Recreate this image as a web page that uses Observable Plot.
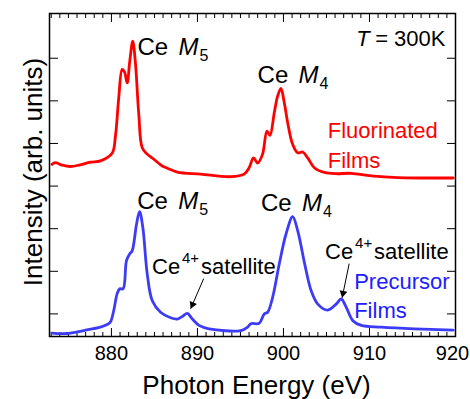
<!DOCTYPE html>
<html><head><meta charset="utf-8">
<script src="https://cdn.jsdelivr.net/npm/d3@7"></script>
<script src="https://cdn.jsdelivr.net/npm/@observablehq/plot@0.6"></script>
<style>body{margin:0;background:#fff;}</style>
</head><body><div id="chart"></div>
<script>
// Fluorinated films (red)
const fluorEnergy = [873.09,873.47,874.29,875.22,876.38,877.55,878.72,880.08,880.47,880.85,881.25,881.52,881.83,882.13,882.48,882.80,883.18,883.58,884.16,884.93,885.91,886.50,887.66,890.38,893.88,895.43,896.01,896.52,896.99,897.57,898.08,898.43,898.93,899.32,899.71,900.09,900.56,901.07,901.66,902.24,902.82,903.59,904.76,906.12,907.87,910.20,913.32,919.73];
const fluorIntensity = [3.51,3.55,3.49,3.46,3.50,3.56,3.59,3.77,4.18,5.07,5.74,5.68,5.42,5.93,6.40,5.86,4.68,3.90,3.75,3.63,3.47,3.42,3.33,3.28,3.22,3.28,3.43,3.66,3.54,3.75,4.29,4.19,4.72,5.11,5.29,4.96,4.41,3.98,3.78,3.80,3.66,3.43,3.32,3.29,3.30,3.24,3.20,3.19];
// Precursor films (blue)
const precEnergy = [873.09,874.83,876.77,878.72,879.50,879.88,880.27,880.66,880.97,881.36,881.75,882.13,882.41,882.92,883.27,883.65,884.16,884.75,885.71,886.88,887.66,888.24,888.83,889.41,890.18,891.35,895.04,895.83,896.21,897.18,897.76,898.16,898.74,899.51,900.29,901.07,901.66,902.43,903.21,903.99,905.15,906.12,906.71,907.29,908.07,909.04,911.37,915.25,919.73];
const precIntensity = [-0.45,-0.46,-0.39,-0.31,-0.25,-0.19,0.08,0.47,0.59,0.59,1.25,1.41,1.48,2.11,2.40,2.03,0.94,0.31,0.04,-0.09,-0.12,-0.06,0.01,-0.12,-0.27,-0.35,-0.39,-0.31,-0.23,-0.22,0.00,0.04,0.39,1.17,1.87,2.28,1.95,1.21,0.55,0.23,0.09,0.23,0.35,0.16,-0.16,-0.27,-0.31,-0.35,-0.38];

const majorTicksX = [880, 890, 900, 910, 920];
const minorTicksX = [873,874,875,876,877,878,879,881,882,883,884,885,886,887,888,889,891,892,893,894,895,896,897,898,899,901,902,903,904,905,906,907,908,909,911,912,913,914,915,916,917,918,919];
const ticksY = [0, 1, 2, 3, 4, 5, 6];

const xTitle = "Photon Energy (eV)";
const yTitle = "Intensity (arb. units)";

// satellite arrows: tail (x1,y1) -> tip (x2,y2)
const satArrows = [
  {x1: 890.73, y1: 0.83, x2: 889.21, y2: 0.12},
  {x1: 907.64, y1: 1.18, x2: 906.82, y2: 0.38}
];

const fluor = fluorEnergy.map((e, i) => ({energy: e, intensity: fluorIntensity[i]}));
const prec = precEnergy.map((e, i) => ({energy: e, intensity: precIntensity[i]}));

const RED = "#ff0000";
const BLUE = "#3c3cf6";
const TBLUE = "#2020ff";

function txt(x, y, s, o = {}) {
  return Plot.text([{x, y}], {x: "x", y: "y", text: () => s, textAnchor: "start", lineAnchor: "bottom", fontSize: 22, fill: "black", ...o});
}
function ceM(x, y, n) {
  return [
    txt(x, y, "Ce", {fontSize: 24}),
    txt(x, y, "M", {fontSize: 24, fontStyle: "italic", dx: 41}),
    txt(x, y, String(n), {fontSize: 16, dx: 62, dy: 6})
  ];
}
function ceSat(x, y) {
  return [
    txt(x, y, "Ce"),
    txt(x, y, "4+", {fontSize: 15, dx: 30, dy: -11}),
    txt(x, y, "satellite", {dx: 49})
  ];
}
function head(a, rot, ddx, ddy) {
  return Plot.dot([a], {x: "x2", y: "y2", symbol: "triangle", r: 2.9, fill: "black", stroke: "none", rotate: rot, dx: ddx, dy: ddy});
}

const chart = Plot.plot({
  width: 470,
  height: 399,
  marginLeft: 49,
  marginRight: 15,
  marginTop: 13,
  marginBottom: 63,
  style: {fontFamily: "'Liberation Sans', Arial, Helvetica, sans-serif", background: "white", color: "black"},
  x: {domain: [872.8, 920]},
  y: {domain: [-0.53, 7.05]},
  marks: [
    Plot.axisX(minorTicksX, {anchor: "bottom", tickSize: -4, tickFormat: () => "", label: null}),
    Plot.axisX(majorTicksX, {anchor: "bottom", tickSize: -8, tickFormat: () => "", label: null}),
    Plot.axisX(minorTicksX, {anchor: "top", tickSize: -4, tickFormat: () => "", label: null}),
    Plot.axisX(majorTicksX, {anchor: "top", tickSize: -8, tickFormat: () => "", label: null}),
    Plot.axisX(majorTicksX.slice(0, 4), {anchor: "bottom", tickSize: 0, tickPadding: 9, fontSize: 20, tickFormat: d => String(d), label: null}),
    Plot.axisX(majorTicksX.slice(4), {anchor: "bottom", tickSize: 0, tickPadding: 9, fontSize: 20, dx: -3, tickFormat: d => String(d), label: null}),
    Plot.axisY(ticksY, {anchor: "left", tickSize: -9, tickFormat: () => "", label: null}),
    Plot.axisY(ticksY, {anchor: "right", tickSize: -9, tickFormat: () => "", label: null}),
    Plot.line(fluor, {x: "energy", y: "intensity", stroke: RED, strokeWidth: 2.8, curve: "catmull-rom"}),
    Plot.line(prec, {x: "energy", y: "intensity", stroke: BLUE, strokeWidth: 2.8, curve: "catmull-rom"}),
    Plot.frame({stroke: "black", strokeWidth: 1.5}),
    ...ceM(883.03, 6.07, 5),
    ...ceM(896.99, 5.42, 4),
    ...ceM(882.99, 2.46, 5),
    ...ceM(897.38, 2.42, 4),
    txt(908.45, 6.28, "T", {fontStyle: "italic"}),
    txt(908.45, 6.28, "= 300K", {dx: 19}),
    txt(905.15, 4.14, "Fluorinated", {fill: RED}),
    txt(905.15, 3.43, "Films", {fill: RED}),
    txt(908.22, 0.59, "Precursor", {fill: TBLUE}),
    txt(908.22, -0.09, "Films", {fill: TBLUE}),
    ...ceSat(884.72, 0.94),
    ...ceSat(904.84, 1.30),
    Plot.link(satArrows, {x1: "x1", y1: "y1", x2: "x2", y2: "y2", stroke: "black", strokeWidth: 1}),
    head(satArrows[0], 203.4, 1.8, -4.2),
    head(satArrows[1], 191.6, 0.9, -4.5),
    Plot.text([xTitle], {frameAnchor: "bottom", text: d => d, dy: 57, dx: 4, lineAnchor: "bottom", fontSize: 26}),
    Plot.text([yTitle], {frameAnchor: "left", text: d => d, rotate: -90, textAnchor: "middle", lineAnchor: "middle", dx: -16, dy: -3, fontSize: 26})
  ]
});
document.getElementById("chart").append(chart);
</script>
</body></html>
